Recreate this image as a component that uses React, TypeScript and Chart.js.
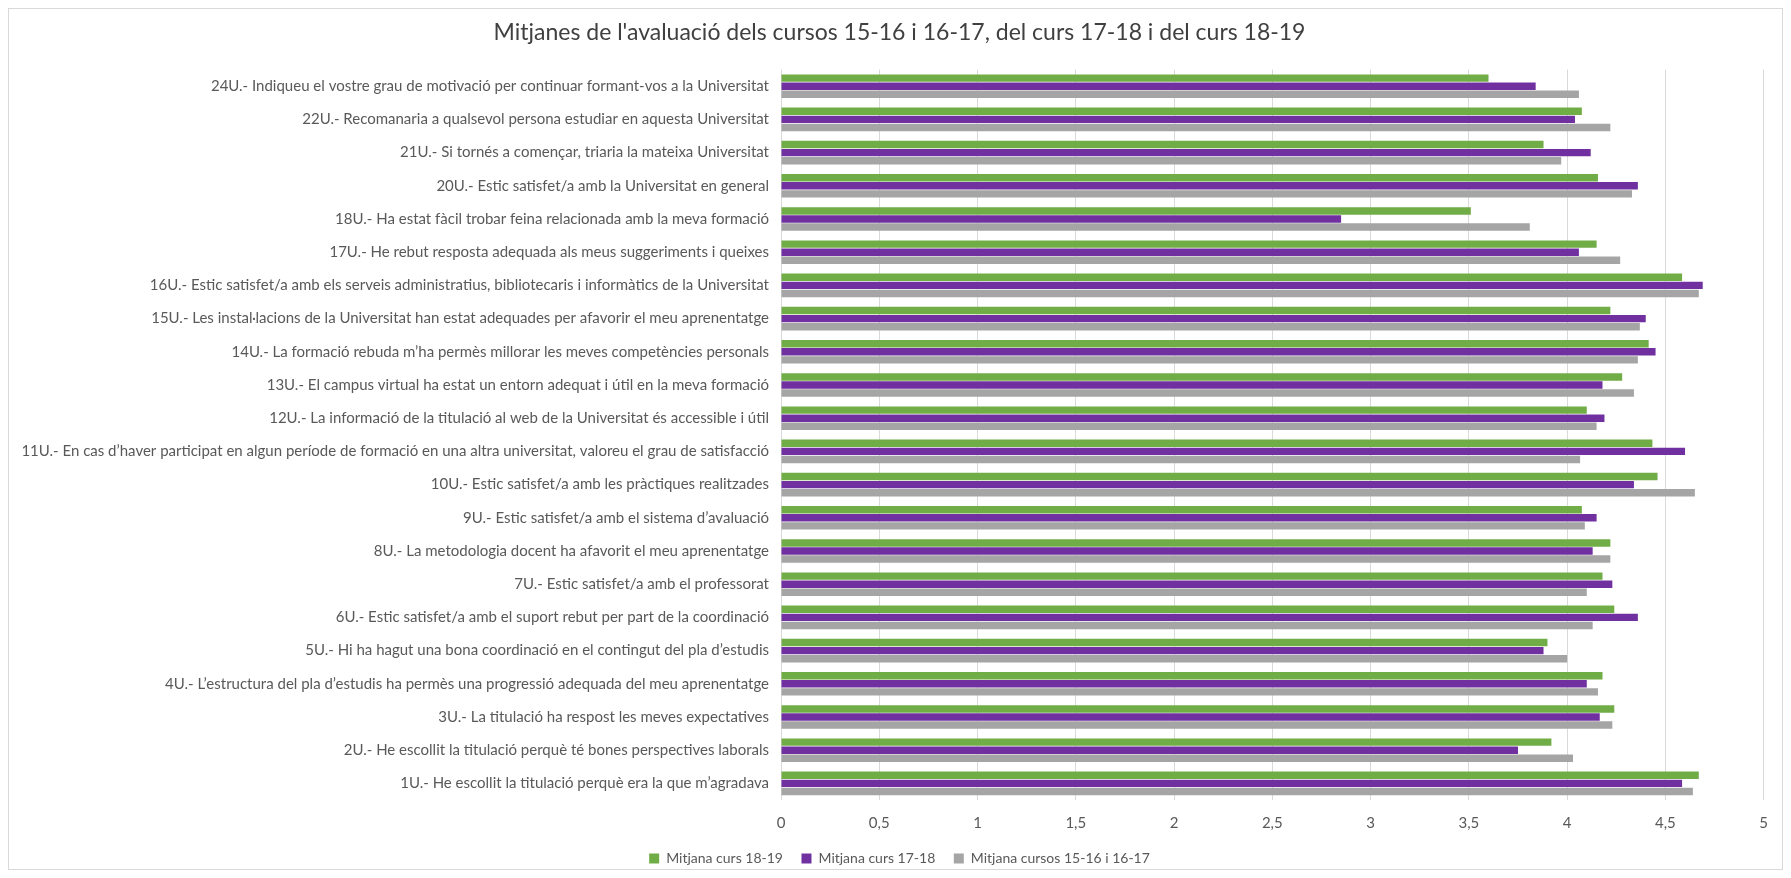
import React, { useEffect, useRef } from "react";
import { Chart, registerables } from "chart.js";

Chart.register(...registerables);

const chartTitle = "Mitjanes de l'avaluació dels cursos 15-16 i 16-17, del curs 17-18 i del curs 18-19";

const categories = [
  "24U.- Indiqueu el vostre grau de motivació per continuar formant-vos a la Universitat",
  "22U.- Recomanaria a qualsevol persona estudiar en aquesta Universitat",
  "21U.- Si tornés a començar, triaria la mateixa Universitat",
  "20U.- Estic satisfet/a amb la Universitat en general",
  "18U.- Ha estat fàcil trobar feina relacionada amb la meva formació",
  "17U.- He rebut resposta adequada als meus suggeriments i queixes",
  "16U.- Estic satisfet/a amb els serveis administratius, bibliotecaris i informàtics de la Universitat",
  "15U.- Les instal·lacions de la Universitat han estat adequades per afavorir el meu aprenentatge",
  "14U.- La formació rebuda m’ha permès millorar les meves competències personals",
  "13U.- El campus virtual ha estat un entorn adequat i útil en la meva formació",
  "12U.- La informació de la titulació al web de la Universitat és accessible i útil",
  "11U.- En cas d’haver participat en algun període de formació en una altra universitat, valoreu el grau de satisfacció",
  "10U.- Estic satisfet/a amb les pràctiques realitzades",
  "9U.- Estic satisfet/a amb el sistema d’avaluació",
  "8U.- La metodologia docent ha afavorit el meu aprenentatge",
  "7U.- Estic satisfet/a amb el professorat",
  "6U.- Estic satisfet/a amb el suport rebut per part de la coordinació",
  "5U.- Hi ha hagut una bona coordinació en el contingut del pla d’estudis",
  "4U.- L’estructura del pla d’estudis ha permès una progressió adequada del meu aprenentatge",
  "3U.- La titulació ha respost les meves expectatives",
  "2U.- He escollit la titulació perquè té bones perspectives laborals",
  "1U.- He escollit la titulació perquè era la que m’agradava",
];

const seriesNames = ["Mitjana curs 18-19", "Mitjana curs 17-18", "Mitjana cursos 15-16 i 16-17"];

const curs1819 = [3.6, 4.075, 3.88, 4.157, 3.51, 4.15, 4.585, 4.22, 4.415, 4.28, 4.1, 4.434, 4.46, 4.075, 4.22, 4.18, 4.24, 3.9, 4.18, 4.24, 3.92, 4.67];
const curs1718 = [3.84, 4.04, 4.12, 4.36, 2.85, 4.06, 4.69, 4.4, 4.45, 4.18, 4.19, 4.6, 4.34, 4.15, 4.13, 4.23, 4.36, 3.88, 4.1, 4.166, 3.75, 4.585];
const cursos1516_1617 = [4.06, 4.22, 3.97, 4.33, 3.81, 4.27, 4.67, 4.37, 4.36, 4.34, 4.15, 4.066, 4.65, 4.09, 4.22, 4.1, 4.13, 4.0, 4.157, 4.23, 4.03, 4.64];

const xTickLabels = ["0", "0,5", "1", "1,5", "2", "2,5", "3", "3,5", "4", "4,5", "5"];

const seriesColors = ["#70ad47", "#7030a0", "#a5a5a5"];

const FONT = "Lato, 'Open Sans', sans-serif";
const TEXT = "#595959";

export default function App() {
  const ref = useRef<HTMLCanvasElement | null>(null);

  useEffect(() => {
    if (!ref.current) return;
    const chart = new Chart(ref.current, {
      type: "bar",
      data: {
        labels: categories,
        datasets: [curs1819, curs1718, cursos1516_1617].map((d, i) => ({
          label: seriesNames[i],
          data: d,
          backgroundColor: seriesColors[i],
          borderWidth: 0,
          categoryPercentage: 0.73,
          barPercentage: 0.92,
        })),
      },
      options: {
        indexAxis: "y",
        responsive: false,
        animation: false,
        devicePixelRatio: 1,
        layout: { padding: { left: 14, right: 6, top: 0, bottom: 0 } },
        plugins: {
          title: {
            display: true,
            text: chartTitle,
            color: "#404040",
            font: { family: FONT, size: 23, weight: "normal" },
            padding: { top: 10, bottom: 23 },
          },
          legend: {
            position: "bottom",
            maxHeight: 36,
            labels: {
              boxWidth: 10,
              boxHeight: 10,
              padding: 18.5,
              color: TEXT,
              font: { family: FONT, size: 14 },
            },
          },
          tooltip: { enabled: false },
        },
        scales: {
          x: {
            min: 0,
            max: 5,
            ticks: {
              stepSize: 0.5,
              color: TEXT,
              padding: 14,
              font: { family: FONT, size: 15 },
              callback: (_v: any, i: number) => xTickLabels[i],
            },
            grid: { color: "#d9d9d9", lineWidth: 1, drawTicks: false },
            border: { display: false },
            afterFit: (s: any) => {
              s.height = 33;
            },
          },
          y: {
            ticks: {
              autoSkip: false,
              color: TEXT,
              padding: 12,
              font: { family: FONT, size: 15 },
            },
            grid: { display: false, drawTicks: false },
            border: { display: false },
            afterFit: (s: any) => {
              s.width = 758;
            },
          },
        },
      },
    });
    return () => chart.destroy();
  }, []);

  return (
    <div
      style={{
        width: 1775,
        height: 862,
        boxSizing: "border-box",
        border: "1px solid #d9d9d9",
        background: "#fff",
      }}
    >
      <canvas ref={ref} width={1773} height={860} style={{ display: "block", width: 1773, height: 860 }} />
    </div>
  );
}
